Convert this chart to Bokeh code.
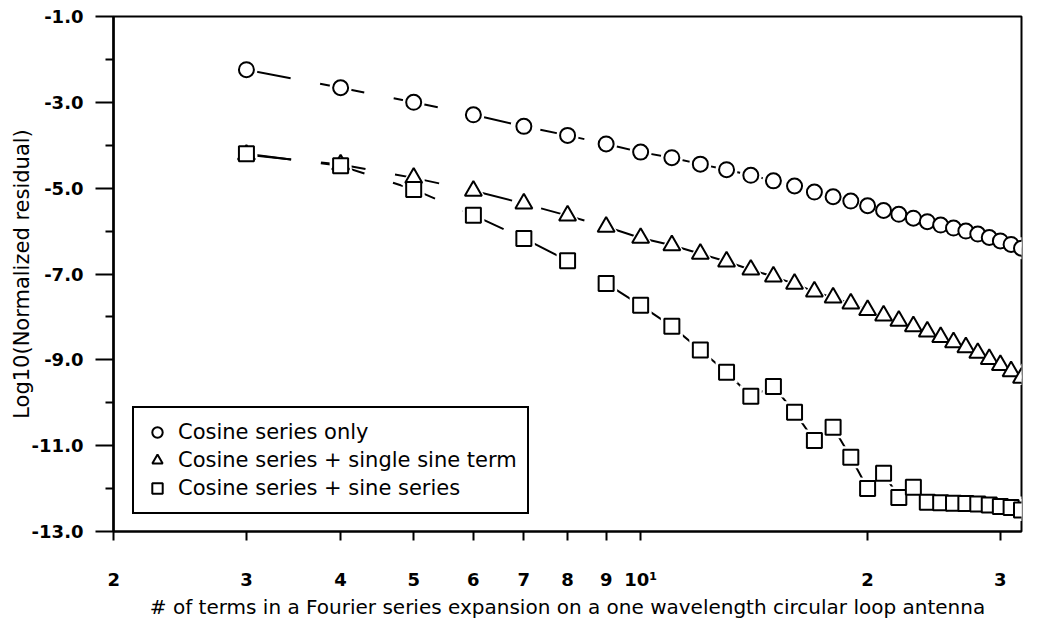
from bokeh.plotting import figure
from bokeh.models import (Range1d, FixedTicker, PrintfTickFormatter,
                          CustomJSTickFormatter, Legend, LegendItem)
from bokeh.embed import file_html
from bokeh.resources import INLINE

# ---------------- data ----------------
n_terms = [3, 4, 5, 6, 7, 8, 9, 10, 11, 12, 13, 14, 15, 16, 17, 18, 19, 20,
           21, 22, 23, 24, 25, 26, 27, 28, 29, 30, 31, 32]

cosine_only = [-2.24, -2.66, -3.00, -3.29, -3.56, -3.77, -3.97, -4.16, -4.29,
               -4.44, -4.57, -4.70, -4.83, -4.95, -5.09, -5.20, -5.30, -5.41,
               -5.52, -5.61, -5.70, -5.78, -5.86, -5.93, -6.00, -6.07, -6.15,
               -6.23, -6.31, -6.40]

cosine_single_sine = [-4.22, -4.45, -4.76, -5.06, -5.36, -5.64, -5.90, -6.16,
                      -6.33, -6.53, -6.71, -6.90, -7.06, -7.23, -7.41, -7.55,
                      -7.69, -7.84, -7.97, -8.09, -8.22, -8.34, -8.47, -8.59,
                      -8.71, -8.84, -8.98, -9.12, -9.27, -9.42]

cosine_sine_series = [-4.20, -4.48, -5.03, -5.63, -6.17, -6.69, -7.22, -7.73,
                      -8.22, -8.77, -9.29, -9.85, -9.62, -10.22, -10.88, -10.57,
                      -11.27, -12.00, -11.64, -12.21, -11.97, -12.32, -12.33,
                      -12.34, -12.35, -12.36, -12.38, -12.42, -12.44, -12.50]

series_labels = ["Cosine series only",
                 "Cosine series + single sine term",
                 "Cosine series + sine series"]

x_ticks = [2, 3, 4, 5, 6, 7, 8, 9, 10, 20, 30]
x_tick_labels = ["2", "3", "4", "5", "6", "7", "8", "9", "10\u00b9", "2", "3"]
y_ticks = [-13, -11, -9, -7, -5, -3, -1]
y_minor_ticks = [-12, -10, -8, -6, -4, -2]

# ---------------- figure ----------------
FONT = "DejaVu Sans"

p = figure(width=1032, height=622, x_axis_type="log",
           x_range=Range1d(1.999, 32), y_range=Range1d(-13, -1),
           output_backend="svg", toolbar_location=None,
           min_border_left=113, min_border_right=11,
           min_border_top=16, min_border_bottom=91)

p.xgrid.visible = False
p.ygrid.visible = False
p.outline_line_color = "black"
p.outline_line_width = 2
p.outline_line_alpha = 1.0
p.background_fill_color = "white"
p.border_fill_color = "white"

series = [
    (cosine_only, "circle", 15, 22),
    (cosine_single_sine, "triangle", 17, 25),
    (cosine_sine_series, "square", 15, 22),
]

split = n_terms.index(10)

# connecting lines: dashed in the sparse part, solid afterwards
for ys, _, _, _ in series:
    p.line(n_terms[:split + 1], ys[:split + 1], line_color="black",
           line_width=2, line_dash="45 30")
    p.line(n_terms[split:], ys[split:], line_color="black", line_width=2)

# white halos to leave a gap between lines and symbols
for ys, mk, sz, hs in series:
    p.scatter(n_terms, ys, marker=mk, size=hs, fill_color="white",
              line_color=None)

renderers = []
for ys, mk, sz, hs in series:
    r = p.scatter(n_terms, ys, marker=mk, size=sz, fill_color="white",
                  line_color="black", line_width=2)
    renderers.append(r)

# ---------------- axes ----------------
for ax in (p.xaxis[0], p.yaxis[0]):
    ax.axis_line_color = "black"
    ax.major_tick_line_color = "black"
    ax.minor_tick_line_color = "black"
    ax.major_label_text_color = "black"
    ax.axis_label_text_color = "black"
    ax.major_label_text_font = FONT
    ax.major_label_text_font_style = "bold"
    ax.major_label_text_font_size = "18px"
    ax.axis_label_text_font = FONT
    ax.axis_label_text_font_style = "normal"
    ax.major_tick_in = 0
    ax.minor_tick_in = 0
    ax.major_tick_line_width = 2
    ax.minor_tick_line_width = 2

xa = p.xaxis[0]
xa.ticker = FixedTicker(ticks=x_ticks, minor_ticks=[])
xa.formatter = CustomJSTickFormatter(
    args=dict(xt=x_ticks, xl=x_tick_labels),
    code="const i = xt.indexOf(Math.round(tick)); return i >= 0 ? xl[i] : '';")
xa.major_tick_out = 9
xa.minor_tick_out = 0
xa.axis_line_width = 2
xa.major_label_standoff = 28
xa.axis_label = "# of terms in a Fourier series expansion on a one wavelength circular loop antenna"
xa.axis_label_text_font_size = "20px"
xa.axis_label_standoff = 2

ya = p.yaxis[0]
ya.ticker = FixedTicker(ticks=y_ticks, minor_ticks=y_minor_ticks)
ya.formatter = PrintfTickFormatter(format="%.1f")
ya.major_tick_out = 18
ya.minor_tick_out = 8
ya.axis_line_width = 2.5
ya.major_label_standoff = 12
ya.axis_label = "Log10(Normalized residual)"
ya.axis_label_text_font_size = "21px"
ya.axis_label_standoff = -5

# ---------------- legend ----------------
legend = Legend(
    items=[LegendItem(label=lab, renderers=[r])
           for lab, r in zip(series_labels, renderers)],
    location=(19, 17),
    border_line_color="black", border_line_width=2, border_line_alpha=1.0,
    background_fill_color="white", background_fill_alpha=1.0,
    padding=10, spacing=0, glyph_height=28, glyph_width=26,
    label_standoff=8, label_height=28,
    label_text_font=FONT, label_text_font_size="21px",
    label_text_color="black",
)
p.add_layout(legend)

open("out.html", "w").write(file_html(p, INLINE))
